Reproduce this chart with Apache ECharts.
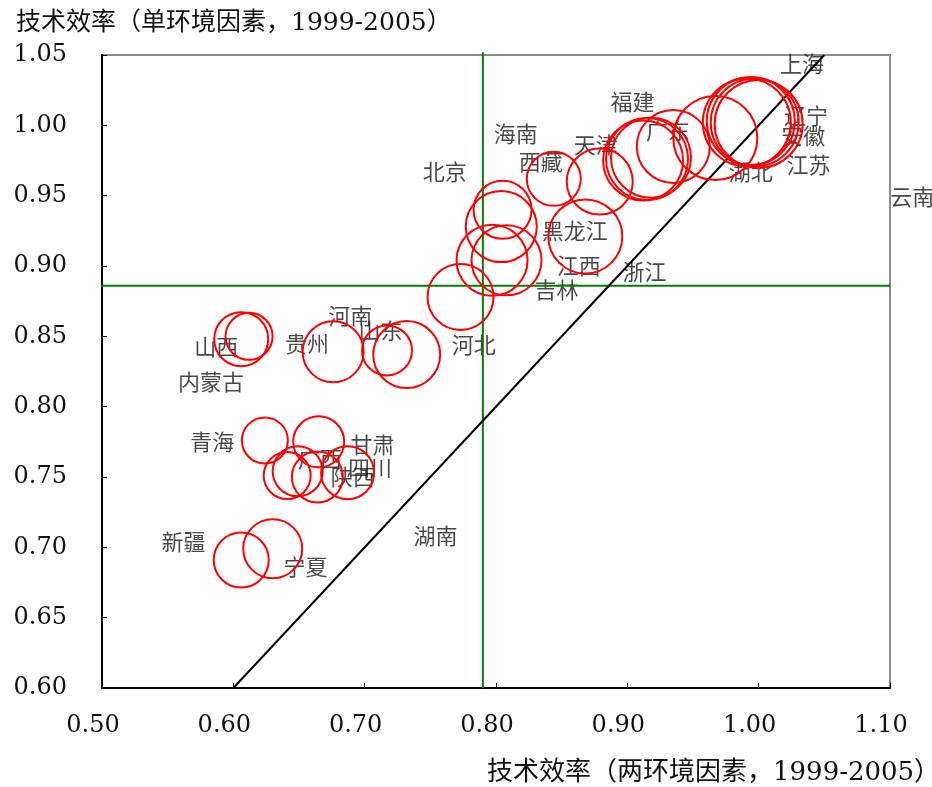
<!DOCTYPE html>
<html><head><meta charset="utf-8">
<script src="https://cdn.jsdelivr.net/npm/echarts@6/dist/echarts.min.js"></script>
<style>html,body{margin:0;padding:0;background:#fff}#c{width:932px;height:787px}</style>
</head><body><div id="c"></div>
<script>
// bubble centres (two-env efficiency, single-env efficiency) and bubble magnitude
const bubbleX = [0.606,0.612,0.676,0.717,0.732,0.773,0.805,0.804,0.797,0.808,0.844,0.868,0.879,0.912,0.915,0.918,0.935,0.967,0.991,0.994,0.997,1.000,0.624,0.665,0.641,0.649,0.664,0.687,0.606,0.630];
const bubbleY = [0.848,0.850,0.839,0.840,0.837,0.878,0.940,0.928,0.904,0.904,0.962,0.921,0.960,0.975,0.976,0.977,0.985,0.991,1.002,1.003,1.002,1.001,0.776,0.775,0.751,0.754,0.750,0.753,0.691,0.699];
const bubbleSize = [54,47,61,50,67,66,58,71,71,70,54,74,66,80,82,80,73,84,88,88,88,88,46,51,47,50,51,53,55,59];

// province label anchors
const provinces = ["上海","辽宁","安徽","江苏","湖北","福建","广东","天津","海南","西藏","北京","黑龙江","江西","浙江","吉林","云南","河南","山东","河北","贵州","山西","内蒙古","青海","甘肃","广西","四川","陕西","新疆","宁夏","湖南"];
const labelX = [1.033,1.036,1.034,1.038,0.994,0.904,0.931,0.876,0.815,0.834,0.761,0.860,0.863,0.913,0.846,1.117,0.689,0.712,0.783,0.656,0.587,0.583,0.584,0.706,0.666,0.704,0.691,0.562,0.655,0.754];
const labelY = [1.044,1.007,0.993,0.972,0.967,1.017,0.996,0.986,0.994,0.974,0.967,0.925,0.900,0.896,0.883,0.949,0.865,0.854,0.844,0.845,0.843,0.818,0.775,0.773,0.763,0.757,0.750,0.704,0.686,0.708];

const diagonal = [[0.6,0.6],[1.05,1.05]];
const meanX = 0.790;
const meanY = 0.886;

const fontF = "DejaVu Serif, Noto Sans CJK SC";
const chart = echarts.init(document.getElementById('c'));
chart.setOption({
  animation: false,
  backgroundColor: '#fff',
  title: [
    {text: '技术效率（单环境因素，1999-2005）', left: 11, top: 6,
     textStyle: {fontSize: 25, fontWeight: 'normal', color: '#111', fontFamily: fontF}},
    {text: '技术效率（两环境因素，1999-2005）', left: 482, top: 755,
     textStyle: {fontSize: 26, fontWeight: 'normal', color: '#111', fontFamily: fontF}}
  ],
  grid: {left: 102, right: 42, top: 55, bottom: 99, show: true, borderColor: '#8a8a8a', borderWidth: 2, backgroundColor: 'transparent'},
  xAxis: {
    type: 'value', min: 0.5, max: 1.1, interval: 0.1,
    axisLine: {show: true, lineStyle: {color: '#000', width: 2}},
    axisTick: {show: true, inside: true, length: 5, lineStyle: {color: '#000', width: 1}},
    splitLine: {show: false},
    axisLabel: {formatter: v => v.toFixed(2), fontSize: 24, color: '#111', fontFamily: fontF, margin: 26, padding: [0, 18, 0, 0]}
  },
  yAxis: {
    type: 'value', min: 0.6, max: 1.05, interval: 0.05,
    axisLine: {show: true, lineStyle: {color: '#000', width: 2}},
    axisTick: {show: true, inside: true, length: 5, lineStyle: {color: '#000', width: 1}},
    splitLine: {show: false},
    axisLabel: {formatter: v => v.toFixed(2), fontSize: 24, color: '#111', fontFamily: fontF, margin: 35, padding: [5, 0, 0, 0]}
  },
  series: [
    {type: 'line', data: [[meanX, 0.6], [meanX, 1.052]], symbol: 'none', clip: false,
     lineStyle: {color: '#008000', width: 2}, z: 2, silent: true},
    {type: 'line', data: [[0.496, meanY], [1.1, meanY]], symbol: 'none', clip: false,
     lineStyle: {color: '#008000', width: 2}, z: 2, silent: true},
    {type: 'line', data: diagonal, symbol: 'none', clip: false,
     lineStyle: {color: '#000', width: 2}, z: 3, silent: true},
    {type: 'scatter', z: 1, symbolSize: 0, clip: false,
     data: provinces.map((p, i) => ({name: p, value: [labelX[i], labelY[i]]})),
     label: {show: true, position: 'inside', formatter: '{b}', fontSize: 22, color: '#1a1a1a', fontFamily: 'Noto Sans CJK SC'},
     labelLayout: {hideOverlap: false}
    },
    {type: 'scatter', z: 4,
     data: bubbleX.map((x, i) => [x, bubbleY[i], bubbleSize[i]]),
     symbolSize: v => v[2],
     itemStyle: {color: 'rgba(0,0,0,0)', borderColor: '#ff0000', borderWidth: 2, opacity: 1}
    }
  ]
});
</script></body></html>
